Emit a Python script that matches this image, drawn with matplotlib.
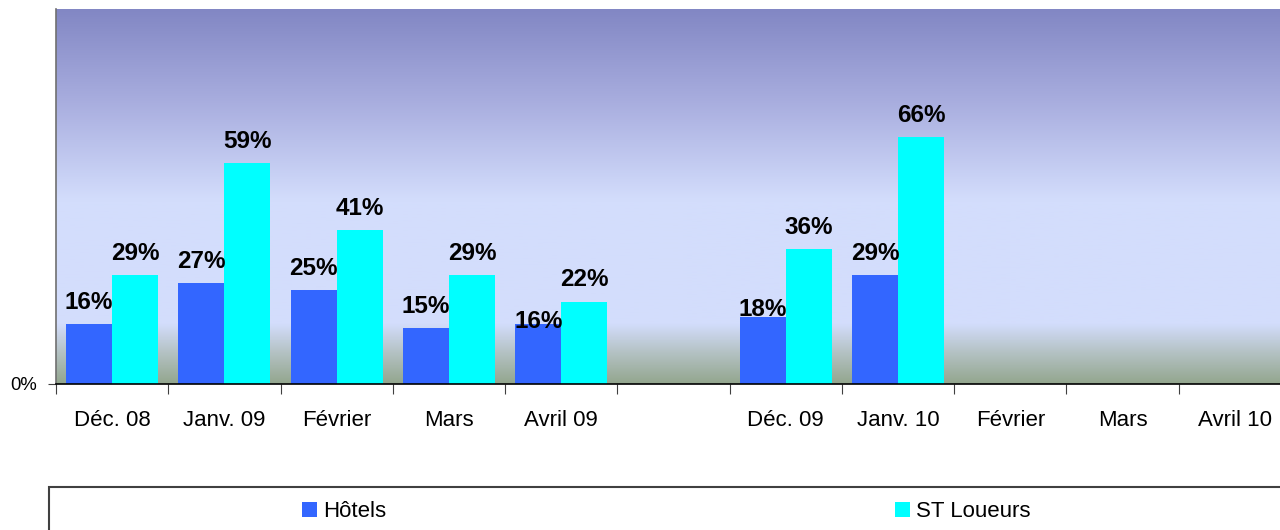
import numpy as np
import matplotlib.pyplot as plt
from matplotlib.colors import LinearSegmentedColormap
from matplotlib.patches import Rectangle

plt.rcParams['font.family'] = ['Liberation Sans', 'DejaVu Sans']

months = ['Déc. 08', 'Janv. 09', 'Février', 'Mars', 'Avril 09', '',
          'Déc. 09', 'Janv. 10', 'Février', 'Mars', 'Avril 10']
hotels = [16, 27, 25, 15, 16, None, 18, 29, None, None, None]
st_loueurs = [29, 59, 41, 29, 22, None, 36, 66, None, None, None]

hotel_color = '#3366ff'
st_color = '#00ffff'

# labels that Excel pushed down onto the bar (pixels)
label_nudge = {('h', 4): -19, ('h', 6): -15}

fig = plt.figure(figsize=(12.8, 5.3), dpi=100)
ax = fig.add_axes([56 / 1280, 146 / 530, 1235 / 1280, 375 / 530])

# gradient background of the plot area
bg = LinearSegmentedColormap.from_list('bg', [
    (0.0, '#93a68e'), (0.08, '#b3c1c2'), (0.16, '#d3ddfc'),
    (0.49, '#d3ddfc'), (0.75, '#a9aedf'), (1.0, '#8287c4')])
grad = np.linspace(0, 1, 256).reshape(-1, 1)
ax.imshow(grad, cmap=bg, aspect='auto', extent=[0, 1, 0, 1], origin='lower',
          transform=ax.transAxes, zorder=0)

x = np.arange(len(months))
w = 0.41
h_vals = np.array([np.nan if v is None else v for v in hotels], dtype=float)
s_vals = np.array([np.nan if v is None else v for v in st_loueurs], dtype=float)

ax.bar(x - w / 2, h_vals, w, color=hotel_color, label='Hôtels', zorder=2)
ax.bar(x + w / 2, s_vals, w, color=st_color, label='ST Loueurs', zorder=2)

for key, xs, vals in (('h', x - w / 2, hotels), ('s', x + w / 2, st_loueurs)):
    for i, v in enumerate(vals):
        if v is None:
            continue
        off = 15 + label_nudge.get((key, i), 0)
        ax.annotate(f'{v}%', (xs[i], v), xytext=(0, off), textcoords='offset pixels',
                    ha='center', va='baseline', fontsize=17.5, fontweight='bold', zorder=3)

ax.set_xlim(-0.5, len(months) - 0.5)
ax.set_ylim(0, 100)

ax.set_xticks(np.arange(len(months) + 1) - 0.5)
ax.set_xticklabels([])
ax.set_xticks(x, minor=True)
ax.set_xticklabels(months, minor=True, fontsize=16)
ax.tick_params(axis='x', which='major', length=7, color='#404040', direction='out')
ax.tick_params(axis='x', which='minor', length=0, pad=19)

ax.set_yticks([0])
ax.set_yticklabels(['0%'], fontsize=13.3)
ax.tick_params(axis='y', length=6, color='#404040', pad=8)

for s in ('top', 'right'):
    ax.spines[s].set_visible(False)
ax.spines['left'].set_color('#707070')
ax.spines['left'].set_linewidth(1.2)
ax.spines['bottom'].set_color('black')
ax.spines['bottom'].set_linewidth(1.2)

# legend box running off the bottom right of the picture
fig.add_artist(Rectangle((49 / 1280, -0.5), 2, 0.5 + 43 / 530, transform=fig.transFigure,
                         fill=False, edgecolor='#404040', linewidth=1.5))
handles, labels = ax.get_legend_handles_labels()
fig.legend(handles, labels, ncol=2, loc='center left',
           bbox_to_anchor=(302 / 1280, 18.5 / 530), frameon=False, fontsize=16,
           handlelength=0.68, handleheight=0.68, handletextpad=0.27,
           columnspacing=22.9, borderpad=0, borderaxespad=0)

fig.savefig('out.png', dpi=100)
